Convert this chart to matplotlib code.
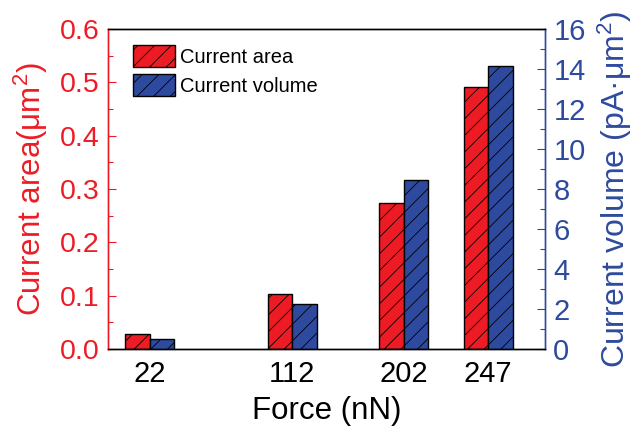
import matplotlib
matplotlib.use("Agg")
import matplotlib.pyplot as plt
from matplotlib.ticker import MultipleLocator, FormatStrFormatter
import numpy as np

plt.rcParams['font.family'] = ['Liberation Sans', 'DejaVu Sans']
plt.rcParams['mathtext.fontset'] = 'custom'
plt.rcParams['mathtext.rm'] = 'Liberation Sans'
plt.rcParams['mathtext.it'] = 'Liberation Sans'
plt.rcParams['hatch.linewidth'] = 0.6

# Data
forces = ["22", "112", "202", "247"]
current_area = [0.029, 0.104, 0.273, 0.492]      # μm²
current_volume = [0.5, 2.25, 8.45, 14.15]        # pA·μm²

# Layout: group centres along the force axis (bar width = 1 unit)
centres = np.array([1.71, 7.52, 12.07, 15.52])
width = 1.0

RED = '#ED1C24'
BLUE = '#2E4A9E'

fig = plt.figure(figsize=(6.34, 4.29), dpi=100)
ax = fig.add_axes([108/634, 1 - 349/429, (545-108)/634, (349-29)/429])
ax2 = ax.twinx()

b1 = ax.bar(centres - width/2, current_area, width, color=RED, edgecolor='black',
            linewidth=1.0, hatch='//', label='Current area')
b2 = ax2.bar(centres + width/2, current_volume, width, color=BLUE, edgecolor='black',
             linewidth=1.0, hatch='//', label='Current volume')

ax.set_xlim(0, 17.84)
ax.set_ylim(0, 0.6)
ax2.set_ylim(0, 16)

ax.set_xticks(centres)
ax.set_xticklabels(forces, fontsize=21)
ax.tick_params(axis='x', length=0, pad=8)

ax.yaxis.set_major_locator(MultipleLocator(0.1))
ax.yaxis.set_minor_locator(MultipleLocator(0.05))
ax.yaxis.set_major_formatter(FormatStrFormatter('%.1f'))
ax.tick_params(axis='y', which='both', direction='in', colors=RED, labelsize=20.5, pad=6)
ax.tick_params(axis='y', which='major', length=6, width=0.8)
ax.tick_params(axis='y', which='minor', length=3.5, width=0.8)

ax2.yaxis.set_major_locator(MultipleLocator(2))
ax2.yaxis.set_minor_locator(MultipleLocator(1))
ax2.tick_params(axis='y', which='both', direction='in', colors=BLUE, labelsize=21, pad=6)
ax2.tick_params(axis='y', which='major', length=6, width=0.8)
ax2.tick_params(axis='y', which='minor', length=3.5, width=0.8)

for a in (ax, ax2):
    for side in ('top', 'bottom'):
        a.spines[side].set_color('black')
        a.spines[side].set_linewidth(1.0)
    a.spines['left'].set_color(RED)
    a.spines['right'].set_color(BLUE)
    a.spines['left'].set_linewidth(1.0)
    a.spines['right'].set_linewidth(1.0)

ax.set_xlabel('Force (nN)', fontsize=22.5, labelpad=6)
ax.set_ylabel('Current area(μm$^2$)', fontsize=22.5, color=RED, labelpad=7)
ax2.set_ylabel('Current volume (pA·μm$^2$)', fontsize=23, color=BLUE, labelpad=7)

ax.legend([b1, b2], ['Current area', 'Current volume'], loc='upper left',
          bbox_to_anchor=(133/634, 1 - 45/429), bbox_transform=fig.transFigure,
          frameon=False, fontsize=14.5, borderpad=0, borderaxespad=0,
          handlelength=2.1, handleheight=1.3, handletextpad=0.25, labelspacing=0.35)

fig.savefig('out.png', dpi=100)
